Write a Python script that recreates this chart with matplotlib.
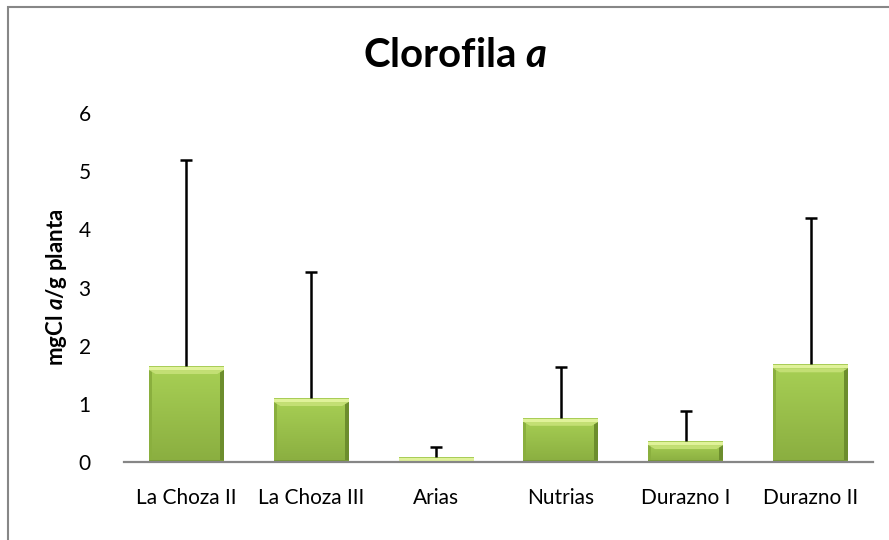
import matplotlib
matplotlib.use("Agg")
import matplotlib.pyplot as plt
import numpy as np
from matplotlib.colors import LinearSegmentedColormap
from matplotlib.patches import Rectangle, Polygon

categories = ["La Choza II", "La Choza III", "Arias", "Nutrias", "Durazno I", "Durazno II"]
values = [1.65, 1.10, 0.09, 0.76, 0.36, 1.68]
errors = [3.54, 2.16, 0.17, 0.87, 0.52, 2.51]
yticks = [0, 1, 2, 3, 4, 5, 6]

plt.rcParams['font.family'] = ['Lato', 'DejaVu Sans']
plt.rcParams['mathtext.fontset'] = 'custom'
plt.rcParams['mathtext.it'] = 'Lato:bold:italic'
plt.rcParams['mathtext.rm'] = 'Lato:bold'

W, H = 889, 540
fig = plt.figure(figsize=(W / 100, H / 100), dpi=100)
fig.patch.set_facecolor('white')

# chart border (cut at right/bottom)
fig.patches.append(Rectangle((8 / W, -0.05), 1.2, (H - 7) / H + 0.05, transform=fig.transFigure,
                             fill=False, edgecolor='#878787', linewidth=1.5))

ax = fig.add_axes([124 / W, 1 - 462 / H, (873 - 124) / W, (462 - 113) / H])
x = np.arange(len(categories))
bw = 0.6
ax.set_xlim(-0.5, len(categories) - 0.5)
ax.set_ylim(0, 6)

ppu = (462 - 113) / 6.0  # pixels per y unit
ppx = (873 - 124) / 6.0  # pixels per x unit

grad = LinearSegmentedColormap.from_list('g', ['#8AAE40', '#A8D055'])
gimg = np.linspace(0, 1, 256).reshape(-1, 1)

bars = ax.bar(x, values, width=bw, color='#9DC54D', edgecolor='none', zorder=2)
for b in bars:
    bx, by, bwid, bh = b.get_x(), b.get_y(), b.get_width(), b.get_height()
    im = ax.imshow(gimg, cmap=grad, aspect='auto', origin='lower',
                   extent=[bx, bx + bwid, by, by + bh], zorder=2.1, interpolation='bicubic')
    im.set_clip_path(b)
    sw = 3 / ppx
    top = by + bh
    # side bevels
    ax.add_patch(Rectangle((bx, by), sw, bh, facecolor='#8AAF3E', edgecolor='none', zorder=2.2))
    ax.add_patch(Rectangle((bx + bwid - sw * 1.3, by), sw * 1.3, bh, facecolor='#6C8D2D',
                           edgecolor='none', zorder=2.2))
    # top bevel: trapezoid band
    t1 = min(1 / ppu, bh)
    t2 = min(4 / ppu, bh)
    t3 = min(8 / ppu, bh)
    ax.add_patch(Polygon([(bx, top - t2), (bx + bwid, top - t2), (bx + bwid - 2.2 * sw, top - t3),
                          (bx + 2.2 * sw, top - t3)], closed=True, facecolor='#C3DF74',
                         edgecolor='none', zorder=2.3))
    ax.add_patch(Rectangle((bx, top - t2), bwid, t2 - t1, facecolor='#E0F29A', edgecolor='none', zorder=2.4))
    ax.add_patch(Rectangle((bx, top - t1), bwid, t1, facecolor='#A9CD58', edgecolor='none', zorder=2.4))
    # bottom shade
    bh2 = min(2 / ppu, bh)
    ax.add_patch(Rectangle((bx, by), bwid, bh2, facecolor='#789A33', edgecolor='none', zorder=2.2))

eb = ax.errorbar(x, values, yerr=[np.zeros(len(values)), errors], fmt='none',
                 ecolor='black', elinewidth=1.8, capsize=4.5, capthick=1.8, zorder=3)
# keep only the upper caps
caplines = eb[1]
if len(caplines) == 2:
    caplines[0].set_visible(False)

for s in ['top', 'right', 'left']:
    ax.spines[s].set_visible(False)
ax.spines['bottom'].set_color('#868686')
ax.spines['bottom'].set_linewidth(1.6)
ax.spines['bottom'].set_zorder(4)

ax.set_yticks(yticks)
ax.set_yticklabels([str(t) for t in yticks])
ax.set_xticks(x)
ax.set_xticklabels(categories)
ax.tick_params(axis='both', length=0, labelsize=15, colors='black')
ax.tick_params(axis='y', pad=24)
ax.tick_params(axis='x', pad=19)

fig.text(455 / W, 1 - 67 / H, r"Clorofila $\mathit{a}$", ha='center', va='baseline',
         fontsize=29, fontweight='bold')
fig.text(57 / W, 1 - 287 / H, r"mgCl $\mathit{a}$/g planta", ha='center', va='center',
         rotation=90, fontsize=16, fontweight='bold')

fig.savefig('out.png', dpi=100, facecolor='white')
